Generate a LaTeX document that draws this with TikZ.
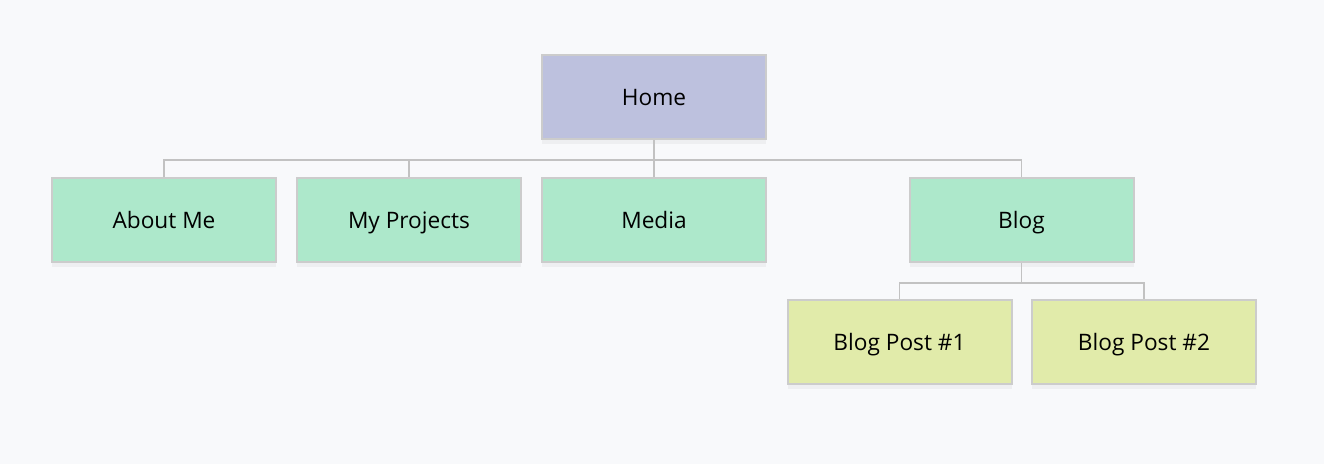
\documentclass[tikz,border=0pt]{standalone}
\usepackage{fontspec}
\setmainfont{Open Sans}
\usepackage{xcolor}
\usetikzlibrary{shadows}
\definecolor{pagebg}{HTML}{F8F9FB}
\definecolor{homefill}{HTML}{BDC1DE}
\definecolor{pagefill}{HTML}{ADE8CB}
\definecolor{postfill}{HTML}{E1EBAA}
\definecolor{boxline}{HTML}{CCCCCC}
\definecolor{linkline}{HTML}{C2C2C2}

\begin{document}
\begin{tikzpicture}[x=0.75pt,y=-0.75pt,
    box/.style={draw=boxline, line width=1.5pt, minimum width=168pt, minimum height=63pt,
      inner sep=0pt, text height=12.8pt, text depth=0pt, font=\fontsize{17}{20}\selectfont,
      drop shadow={opacity=0.08, shadow xshift=0pt, shadow yshift=-3.5pt}},
    link/.style={draw=linkline, line width=0.9pt}]
  \fill[pagebg] (0,0) rectangle (1324,464);
  \useasboundingbox (0,0) rectangle (1324,464);
  \node[box, fill=homefill] (home) at (654,97) {Home};
  \node[box, fill=pagefill] (about) at (164,220) {About Me};
  \node[box, fill=pagefill] (projects) at (409,220) {My Projects};
  \node[box, fill=pagefill] (media) at (654,220) {Media};
  \node[box, fill=pagefill] (blog) at (1021.5,220) {Blog};
  \node[box, fill=postfill] (post1) at (899.5,342) {Blog Post \#1};
  \node[box, fill=postfill] (post2) at (1144,342) {Blog Post \#2};
  \foreach \child in {about,projects,media,blog}
    \draw[link] (home.south) -- ++(0,20) -| (\child.north);
  \foreach \child in {post1,post2}
    \draw[link] (blog.south) -- ++(0,20) -| (\child.north);
\end{tikzpicture}
\end{document}
